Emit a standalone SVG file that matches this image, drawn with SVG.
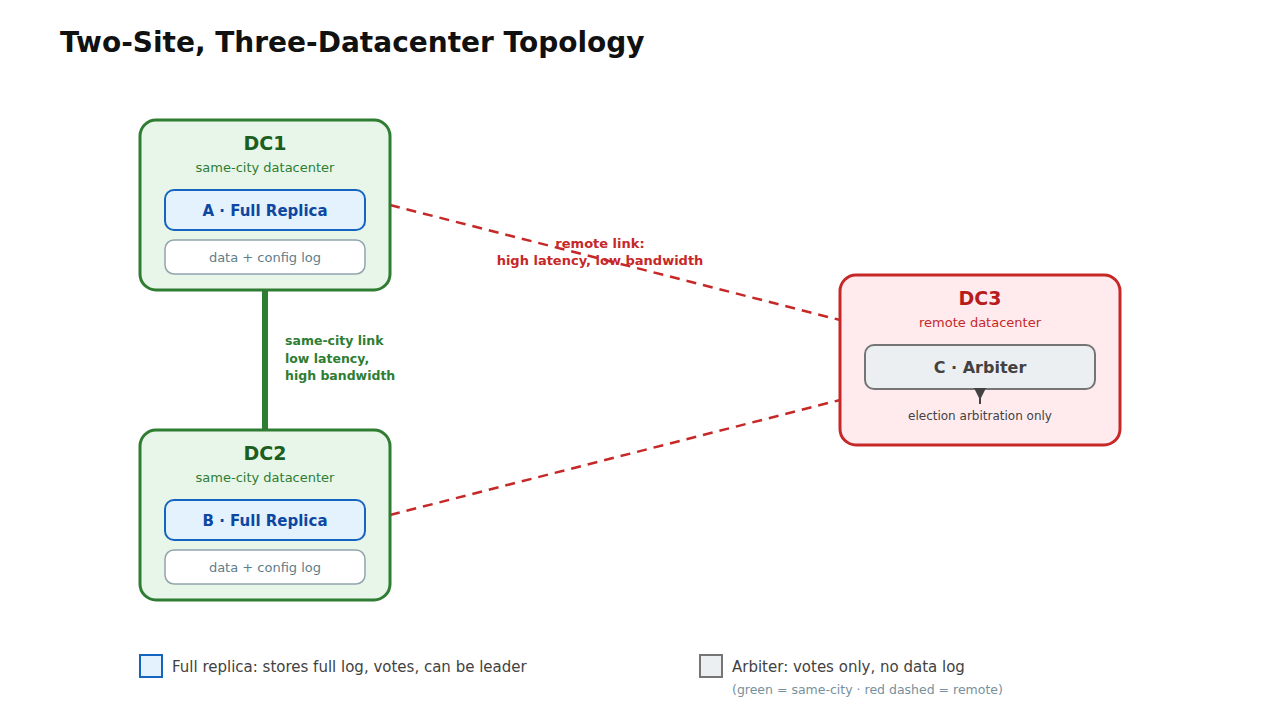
<svg xmlns="http://www.w3.org/2000/svg" width="1280" height="720" viewBox="0 0 1280 720">
<style>
text{font-family:"DejaVu Sans",sans-serif}
.dc{fill:#e8f5e9;stroke:#2e7d32;stroke-width:3}
.dct{fill:#1b5e20;font-size:19px;font-weight:bold;text-anchor:middle}
.dcs{fill:#2e7d32;font-size:13px;text-anchor:middle}
.rep{fill:#e3f2fd;stroke:#1565c0;stroke-width:2}
.rept{fill:#0d47a1;font-size:15px;font-weight:bold;text-anchor:middle}
.log{fill:#fff;stroke:#90a4ae;stroke-width:1.5}
.logt{fill:#607d8b;font-size:13px;text-anchor:middle}
.rl{stroke:#c62828;stroke-width:2.5;stroke-dasharray:10 7;fill:none}
.lbr{fill:#c62828;font-size:13px;font-weight:bold;text-anchor:middle}
.lbg{fill:#2e7d32;font-size:12.5px;font-weight:bold}
</style>
<rect width="1280" height="720" fill="#fff"/>
<text x="60" y="52" font-size="28" font-weight="bold" fill="#111">Two-Site, Three-Datacenter Topology</text>
<g id="connectors">
<line x1="265" y1="290" x2="265" y2="430" stroke="#2e7d32" stroke-width="6"/>
<line class="rl" x1="390" y1="205" x2="840" y2="320"/>
<line class="rl" x1="390" y1="515" x2="840" y2="400"/>
<text class="lbr" x="600" y="248">remote link:</text>
<text class="lbr" x="600" y="265">high latency, low bandwidth</text>
<text class="lbg" x="285" y="345">same-city link</text>
<text class="lbg" x="285" y="363">low latency,</text>
<text class="lbg" x="285" y="380">high bandwidth</text>
</g>
<g id="dc1">
<rect class="dc" x="140" y="120" width="250" height="170" rx="16"/>
<text class="dct" x="265" y="150">DC1</text>
<text class="dcs" x="265" y="172">same-city datacenter</text>
<rect class="rep" x="165" y="190" width="200" height="40" rx="9"/>
<text class="rept" x="265" y="216">A · Full Replica</text>
<rect class="log" x="165" y="240" width="200" height="34" rx="9"/>
<text class="logt" x="265" y="262">data + config log</text>
</g>
<g id="dc2">
<rect class="dc" x="140" y="430" width="250" height="170" rx="16"/>
<text class="dct" x="265" y="460">DC2</text>
<text class="dcs" x="265" y="482">same-city datacenter</text>
<rect class="rep" x="165" y="500" width="200" height="40" rx="9"/>
<text class="rept" x="265" y="526">B · Full Replica</text>
<rect class="log" x="165" y="550" width="200" height="34" rx="9"/>
<text class="logt" x="265" y="572">data + config log</text>
</g>
<g id="dc3">
<rect x="840" y="275" width="280" height="170" rx="16" fill="#ffebee" stroke="#c62828" stroke-width="3"/>
<text x="980" y="305" font-size="19" font-weight="bold" fill="#b71c1c" text-anchor="middle">DC3</text>
<text x="980" y="327" font-size="13" fill="#c62828" text-anchor="middle">remote datacenter</text>
<rect x="865" y="345" width="230" height="44" rx="9" fill="#eceff1" stroke="#757575" stroke-width="2"/>
<text x="980" y="373" font-size="16" font-weight="bold" fill="#424242" text-anchor="middle">C · Arbiter</text>
<line x1="980" y1="396" x2="980" y2="404" stroke="#424242" stroke-width="2"/>
<polygon points="974,388 986,388 980,400" fill="#424242"/>
<text x="980" y="420" font-size="12" fill="#424242" text-anchor="middle">election arbitration only</text>
</g>
<g id="legend">
<rect x="140" y="655" width="22" height="22" fill="#e3f2fd" stroke="#1565c0" stroke-width="2"/>
<text x="172" y="672" font-size="15" fill="#424242">Full replica: stores full log, votes, can be leader</text>
<rect x="700" y="655" width="22" height="22" fill="#eceff1" stroke="#757575" stroke-width="2"/>
<text x="732" y="672" font-size="15" fill="#424242">Arbiter: votes only, no data log</text>
<text x="732" y="694" font-size="12.5" fill="#78909c">(green = same-city · red dashed = remote)</text>
</g>
</svg>
